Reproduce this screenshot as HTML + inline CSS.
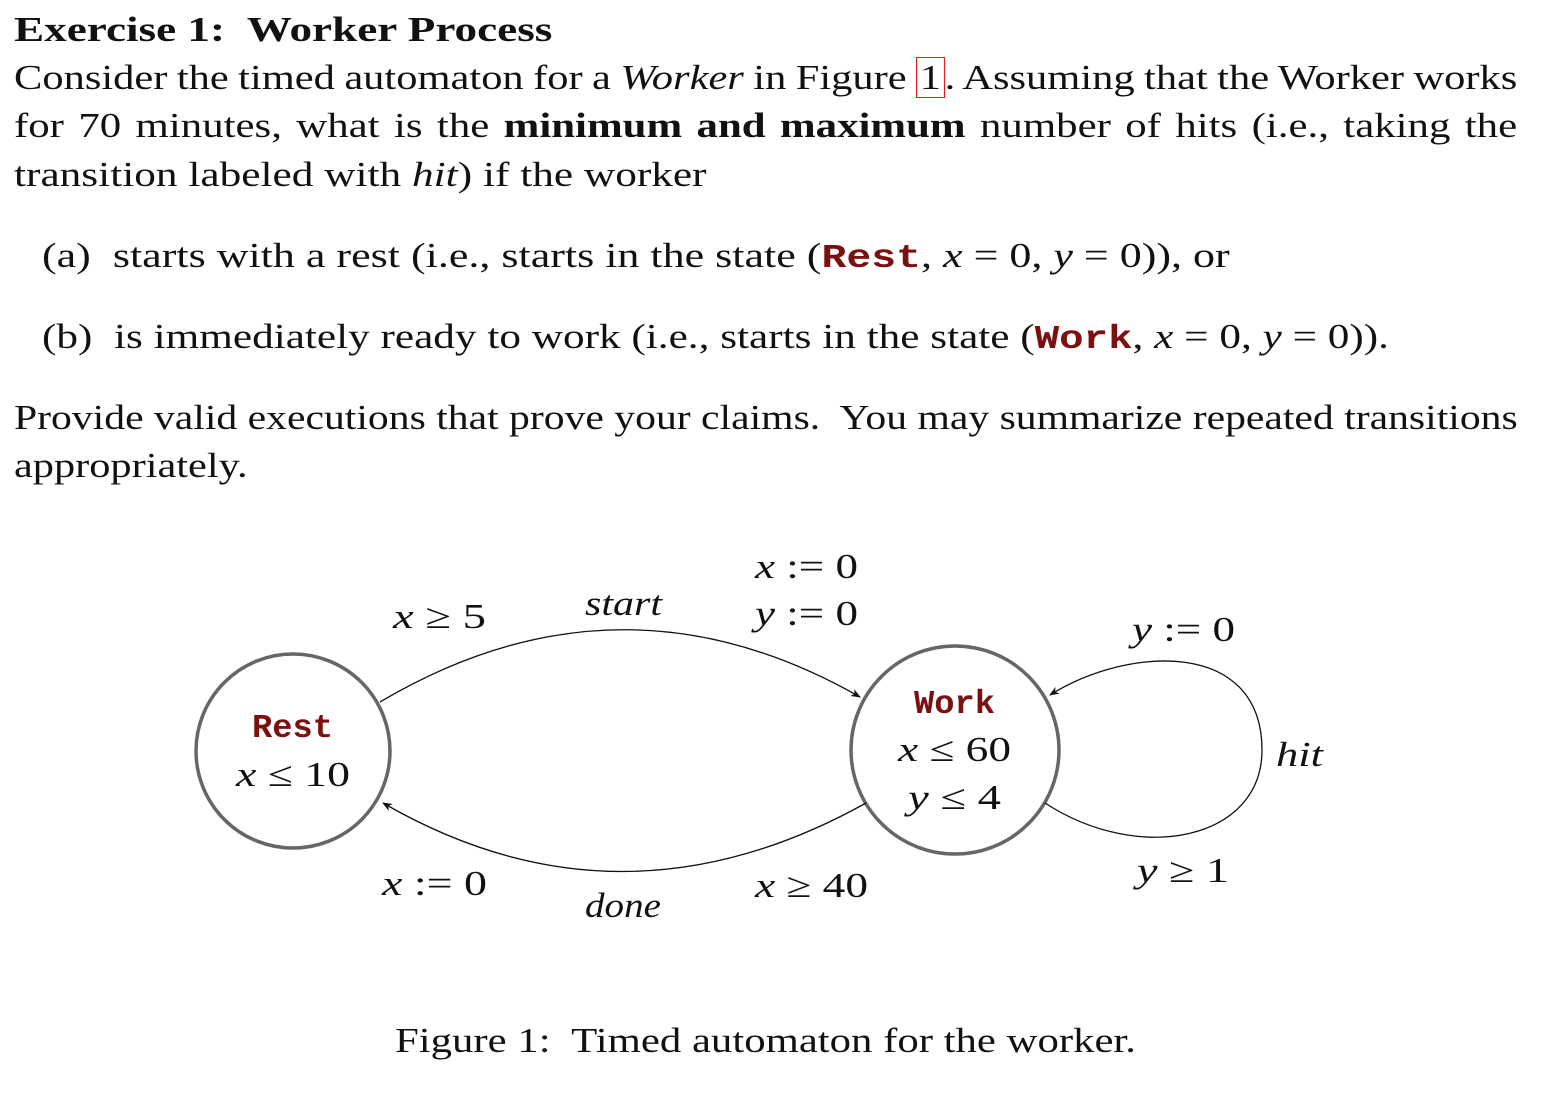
<!DOCTYPE html>
<html><head><meta charset="utf-8"><style>
html,body{margin:0;padding:0;background:#fff;}
body{width:1544px;height:1098px;position:relative;overflow:hidden;font-family:"Liberation Serif",serif;font-size:35px;color:#111;}
.t{position:absolute;white-space:nowrap;line-height:1;transform-origin:0 0;}
.m{font-family:"Liberation Mono",monospace;color:#7a1010;font-weight:bold;font-size:33px;}
i{font-style:italic;}
.ref{border:1.5px solid #e02020;padding:0 2px;}
</style></head><body>
<div class="t" style="left:14px;top:12px;font-weight:bold;transform:scaleX(1.29)">Exercise 1:&nbsp; Worker Process</div>
<div class="t" style="left:14px;top:60px;word-spacing:-1px;transform:scaleX(1.214)">Consider the timed automaton for a <i>Worker</i> in Figure <span class="ref">1</span>. Assuming that the Worker works</div>
<div class="t" style="left:14px;top:108px;word-spacing:3px;transform:scaleX(1.224)">for 70 minutes, what is the <b>minimum and maximum</b> number of hits (i.e., taking the</div>
<div class="t" style="left:14px;top:157px;transform:scaleX(1.237)">transition labeled with <i>hit</i>) if the worker</div>
<div class="t" style="left:42px;top:238px;transform:scaleX(1.257)">(a)&nbsp; starts with a rest (i.e., starts in the state (<span class="m">Rest</span>, <i>x</i> = 0, <i>y</i> = 0)), or</div>
<div class="t" style="left:42px;top:319px;transform:scaleX(1.235)">(b)&nbsp; is immediately ready to work (i.e., starts in the state (<span class="m">Work</span>, <i>x</i> = 0, <i>y</i> = 0)).</div>
<div class="t" style="left:14px;top:400px;transform:scaleX(1.19)">Provide valid executions that prove your claims.&nbsp; You may summarize repeated transitions</div>
<div class="t" style="left:14px;top:448px;transform:scaleX(1.21)">appropriately.</div>

<svg width="1544" height="1098" style="position:absolute;left:0;top:0" xmlns="http://www.w3.org/2000/svg">
<defs><marker id="a" markerWidth="10" markerHeight="8" refX="9" refY="4" orient="auto" markerUnits="userSpaceOnUse"><path d="M0,0 L10,4 L0,8 L3,4z" fill="#111"/></marker></defs>
<circle cx="293" cy="751" r="97" fill="none" stroke="#666" stroke-width="3.5"/>
<circle cx="955" cy="750" r="104" fill="none" stroke="#666" stroke-width="3.5"/>
<path d="M380,702 Q620,560 860,697" fill="none" stroke="#111" stroke-width="1.3" marker-end="url(#a)"/>
<path d="M866,803 Q620,940 383,803" fill="none" stroke="#111" stroke-width="1.3" marker-end="url(#a)"/>
<path d="M1045,803 C1140,865 1262,840 1262,750 C1262,640 1130,645 1050,695" fill="none" stroke="#111" stroke-width="1.3" marker-end="url(#a)"/>
<g font-family="Liberation Serif, serif" font-size="35" fill="#111" lengthAdjust="spacingAndGlyphs">
<text x="252" y="737" textLength="81" lengthAdjust="spacingAndGlyphs" font-family="Liberation Mono, monospace" font-weight="bold" font-size="33" fill="#7a1010">Rest</text>
<text x="236" y="786" textLength="114" lengthAdjust="spacingAndGlyphs"><tspan font-style="italic">x</tspan> ≤ 10</text>
<text x="914" y="713" textLength="81" lengthAdjust="spacingAndGlyphs" font-family="Liberation Mono, monospace" font-weight="bold" font-size="33" fill="#7a1010">Work</text>
<text x="898" y="761" textLength="113" lengthAdjust="spacingAndGlyphs"><tspan font-style="italic">x</tspan> ≤ 60</text>
<text x="908" y="809" textLength="93" lengthAdjust="spacingAndGlyphs"><tspan font-style="italic">y</tspan> ≤ 4</text>
<text x="393" y="628" textLength="93" lengthAdjust="spacingAndGlyphs"><tspan font-style="italic">x</tspan> ≥ 5</text>
<text x="585" y="615" textLength="77" lengthAdjust="spacingAndGlyphs" font-style="italic">start</text>
<text x="755" y="578" textLength="103" lengthAdjust="spacingAndGlyphs"><tspan font-style="italic">x</tspan> := 0</text>
<text x="755" y="625" textLength="103" lengthAdjust="spacingAndGlyphs"><tspan font-style="italic">y</tspan> := 0</text>
<text x="1132" y="641" textLength="103" lengthAdjust="spacingAndGlyphs"><tspan font-style="italic">y</tspan> := 0</text>
<text x="1276" y="766" textLength="47" lengthAdjust="spacingAndGlyphs" font-style="italic">hit</text>
<text x="1137" y="882" textLength="92" lengthAdjust="spacingAndGlyphs"><tspan font-style="italic">y</tspan> ≥ 1</text>
<text x="382" y="895" textLength="105" lengthAdjust="spacingAndGlyphs"><tspan font-style="italic">x</tspan> := 0</text>
<text x="585" y="917" textLength="76" lengthAdjust="spacingAndGlyphs" font-style="italic">done</text>
<text x="755" y="897" textLength="113" lengthAdjust="spacingAndGlyphs"><tspan font-style="italic">x</tspan> ≥ 40</text>
<text x="395" y="1052" textLength="741" lengthAdjust="spacingAndGlyphs">Figure 1:&#160; Timed automaton for the worker.</text>
</g>
</svg>
</body></html>
